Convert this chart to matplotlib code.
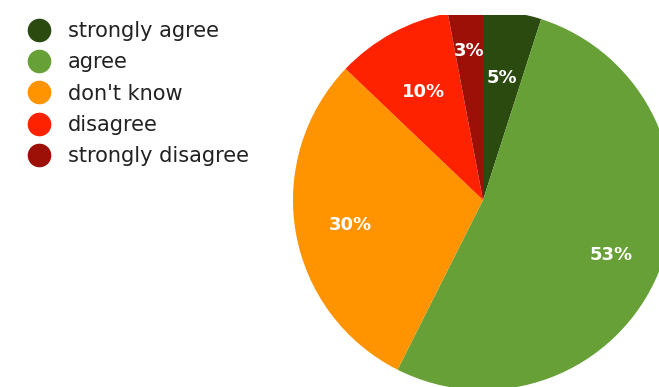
import numpy as np
import matplotlib
matplotlib.use("Agg")
import matplotlib.pyplot as plt
from matplotlib.lines import Line2D

categories = ["strongly agree", "agree", "don't know", "disagree", "strongly disagree"]
shares = [5, 53, 30, 10, 3]
colors = ["#2a4a10", "#67a036", "#ff9400", "#ff2200", "#9c1008"]
label_dist = [0.66, 0.73, 0.71, 0.66, 0.80]

W, H, DPI = 659, 387, 100
fig = plt.figure(figsize=(W / DPI, H / DPI), dpi=DPI)

# pie axes: the circle sits right of the legend and runs off the top, right and bottom
cx, cy, R = 483, 200, 190
top_clip = 15
ax = fig.add_axes([0, 0, 1, (H - top_clip) / H])

wedges, _ = ax.pie(shares, colors=colors, startangle=90, counterclock=False,
                   radius=1.0, wedgeprops=dict(linewidth=0))
ax.set_aspect("auto")
ax.set_xlim(-cx / R, (W - cx) / R)
ax.set_ylim(-(H - cy) / R, (cy - top_clip) / R)
ax.axis("off")
for w in wedges:
    w.set_clip_on(True)

for w, val, d in zip(wedges, shares, label_dist):
    mid = np.deg2rad((w.theta1 + w.theta2) / 2)
    ax.text(d * np.cos(mid), d * np.sin(mid), f"{val}%", ha="center",
            va="center_baseline", color="white", fontsize=13, fontweight="bold",
            family="DejaVu Sans")

handles = [Line2D([0], [0], marker="o", linestyle="none", markersize=16,
                  markerfacecolor=c, markeredgecolor=c) for c in colors]
fig.legend(handles, categories, loc="upper left", bbox_to_anchor=(0.0276, 0.967),
           frameon=False, fontsize=15, labelspacing=0.54, handletextpad=0.8,
           handlelength=1.2, borderaxespad=0, labelcolor="#222222")

fig.savefig("out.png", dpi=DPI)
